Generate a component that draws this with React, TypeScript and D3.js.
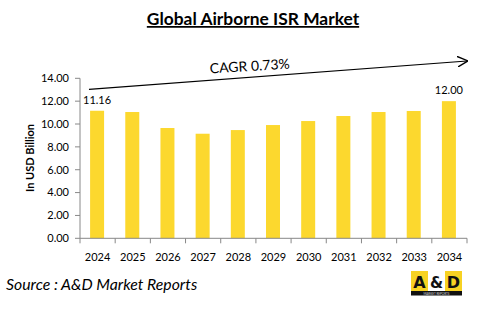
import React from "react";
import * as d3 from "d3";

const years = ["2024","2025","2026","2027","2028","2029","2030","2031","2032","2033","2034"];
const values = [11.16, 11.05, 9.65, 9.15, 9.47, 9.91, 10.26, 10.7, 11.05, 11.14, 12.0];
const yTicks = [0, 2, 4, 6, 8, 10, 12, 14];
const labeled = [0, 10];
const title = "Global Airborne ISR Market";
const cagrText = "CAGR 0.73%";
const yLabel = "In USD Billion";
const source = "Source : A&D Market Reports";

const W = 498, H = 333;
const m = { left: 80, right: 467, top: 78.3, bottom: 238.3 };
const font = "Lato, 'Open Sans', sans-serif";

export default function App() {
  const x = d3.scaleBand<string>().domain(years).range([m.left, m.right]).paddingInner(0).paddingOuter(0);
  const y = d3.scaleLinear().domain([0, 14]).range([m.bottom, m.top]);
  const bw = x.bandwidth();
  const bounds = d3.range(years.length + 1).map(i => m.left + i * bw);
  const barW = 14;
  const cx = (yr: string) => (x(yr) as number) + bw / 2;

  return (
    <svg width={W} height={H} style={{ position: "absolute", left: 0, top: 0, background: "#fff" }}>
      <defs>
        <marker id="arr" viewBox="0 0 10 10" refX="9" refY="5" markerWidth="9" markerHeight="9" orient="auto">
          <path d="M0,0 L10,5 L0,10" fill="none" stroke="#000" strokeWidth="1.3" />
        </marker>
      </defs>
      <text x={253} y={25} textAnchor="middle" fontFamily={font} fontWeight="bold" fontSize={17.4} fill="#000" textDecoration="underline">{title}</text>

      {years.map((yr, i) => (
        <rect key={yr} x={cx(yr) - barW / 2 - 0.5} y={y(values[i])} width={barW} height={m.bottom - y(values[i])} fill="#FCD82E" />
      ))}

      <line x1={m.left} x2={m.left} y1={m.top} y2={m.bottom} stroke="#888" />
      {yTicks.map(t => (
        <g key={t}>
          <line x1={m.left - 5} x2={m.left} y1={y(t)} y2={y(t)} stroke="#888" />
          <text x={m.left - 11} y={y(t)} dy="0.35em" textAnchor="end" fontFamily={font} fontSize={11} fill="#000">{t.toFixed(2)}</text>
        </g>
      ))}
      <line x1={m.left} x2={m.right} y1={m.bottom} y2={m.bottom} stroke="#888" />
      {bounds.map((b, i) => (
        <line key={i} x1={b} x2={b} y1={m.bottom} y2={m.bottom + 5} stroke="#888" />
      ))}
      {years.map(yr => (
        <text key={yr} x={cx(yr)} y={257} dy="0.35em" textAnchor="middle" fontFamily={font} fontSize={11} fill="#000">{yr}</text>
      ))}

      {labeled.map(i => (
        <text key={i} x={cx(years[i]) - 0.5} y={y(values[i]) - 7} textAnchor="middle" fontFamily={font} fontSize={11} fill="#000">{values[i].toFixed(2)}</text>
      ))}

      <text transform="translate(30,158) rotate(-90)" textAnchor="middle" dy="0.35em" fontFamily={font} fontWeight="bold" fontSize={11} fill="#000">{yLabel}</text>

      <line x1={89} y1={89.3} x2={467} y2={61} stroke="#000" strokeWidth={1.2} markerEnd="url(#arr)" />
      <text transform="translate(250,71) rotate(-3.5)" textAnchor="middle" fontFamily={font} fontSize={14} fill="#000">{cagrText}</text>

      <text x={6} y={290} fontFamily={font} fontStyle="italic" fontSize={15.8} fill="#000">{source}</text>

      <g>
        <rect x={411} y={271} width={51} height={25} fill="#fff" />
        <rect x={411} y={271} width={17} height={20} fill="#F7D223" />
        <rect x={445} y={271} width={17} height={20} fill="#F7D223" />
        <rect x={411} y={291} width={51} height={4.5} fill="#111" />
        <text x={419.5} y={288} textAnchor="middle" fontFamily="'DejaVu Sans', sans-serif" fontWeight="bold" fontSize={16} fill="#111">A</text>
        <text x={436.5} y={288} textAnchor="middle" fontFamily="'DejaVu Sans', sans-serif" fontWeight="bold" fontSize={15} fill="#111">&amp;</text>
        <text x={453.5} y={288} textAnchor="middle" fontFamily="'DejaVu Sans', sans-serif" fontWeight="bold" fontSize={16} fill="#111">D</text>
        <text x={436.5} y={294.6} textAnchor="middle" fontFamily={font} fontSize={3} fill="#ddd">MARKET REPORTS</text>
      </g>
    </svg>
  );
}
